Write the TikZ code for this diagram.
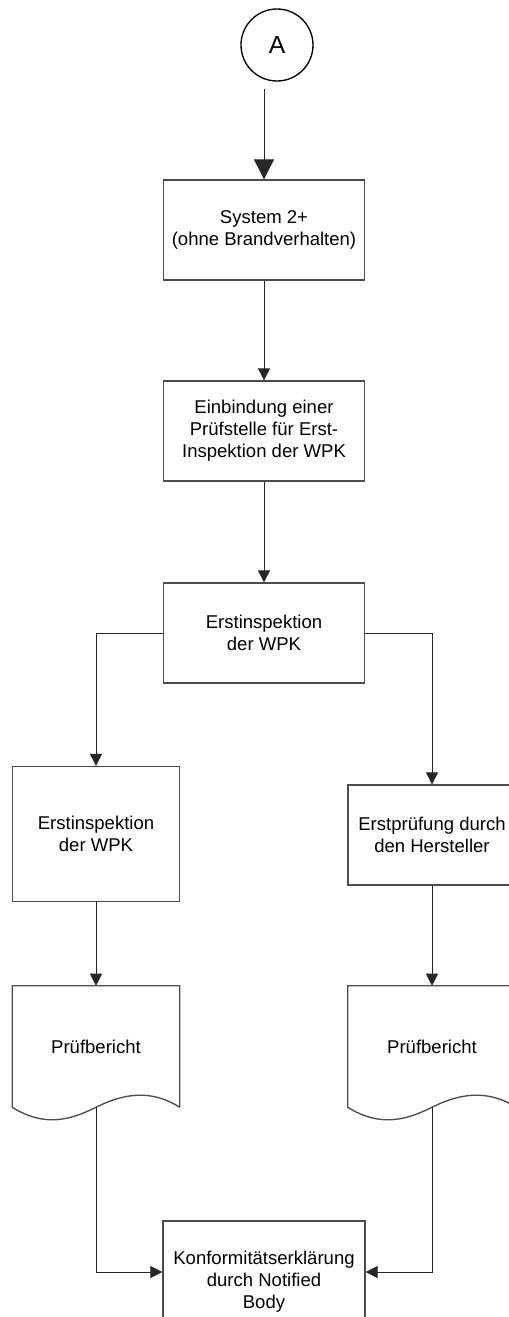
\documentclass[tikz,border=0pt]{standalone}
\usepackage{fontspec}
\setmainfont{Liberation Sans}
\usetikzlibrary{arrows.meta,calc}

\tikzset{
  kasten/.style={draw=black!70, line width=1pt, fill=white, align=center, inner sep=0.75pt,
    font=\fontsize{13.9}{16.6}\selectfont},
  dokument/.style={align=center, inner sep=0.75pt, font=\fontsize{13.9}{16.6}\selectfont},
  pfeil/.style={draw=black!85, line width=0.75pt, -{Triangle[length=9pt,width=9pt]}},
}

\begin{document}
\begin{tikzpicture}[x=0.75pt,y=0.75pt,yscale=-1,xscale=1]
\useasboundingbox (0,0) rectangle (508,1317);

%Shape: Circle
\node [draw=black, line width=1pt, circle, minimum size=54pt, inner sep=0pt,
  font=\fontsize{18.5}{22}\selectfont] (kreisA) at (277,45) {A};

%Shape: Rectangles
\node [kasten, minimum width=150.75pt, minimum height=75pt] (sys) at (264,230) {System 2+\\(ohne Brandverhalten)};
\node [kasten, minimum width=150.75pt, minimum height=75pt] (einb) at (264,431) {Einbindung einer\\Prüfstelle für Erst-\\Inspektion der WPK};
\node [kasten, minimum width=150.75pt, minimum height=75pt] (erst) at (264,633) {Erstinspektion\\der WPK};
\node [kasten, minimum width=125.25pt, minimum height=101.25pt] (erstL) at (96,834) {Erstinspektion\\der WPK};
\node [kasten, minimum width=126pt, minimum height=75pt] (erstR) at (432,835) {Erstprüfung durch\\den Hersteller};
\node [kasten, minimum width=151.5pt, minimum height=91.5pt] (konf) at (264,1282) {Konformitätserklärung\\durch Notified\\Body};

%Shape: Documents
\node [dokument, minimum width=125.25pt, minimum height=90.75pt] (berL) at (96,1046.5) {Prüfbericht};
\node [dokument, minimum width=126pt, minimum height=90.75pt] (berR) at (432,1046.5) {Prüfbericht};
\foreach \d in {berL,berR}
  \draw [draw=black!70, line width=1pt] (\d.south east) -- (\d.north east) -- (\d.north west) -- (\d.south west)
    .. controls +(32,20) and +(-26,13) .. (\d.south)
    .. controls +(26,-13) and +(-30,-19) .. (\d.south east);

%Straight Lines
\draw [pfeil, -{Triangle[length=15pt,width=15pt]}, shorten <=5.25pt] (sys.north |- kreisA.south) -- (sys.north);
\draw [pfeil] (sys.south) -- (einb.north);
\draw [pfeil] (einb.south) -- (erst.north);
\draw [pfeil] (erst.west) -| (erstL.north);
\draw [pfeil] (erst.east) -| (erstR.north);
\draw [pfeil] (erstL.south) -- (berL.north);
\draw [pfeil] (erstR.south) -- (berR.north);
\draw [pfeil] (berL.south) |- ([yshift=-7.5pt]konf.west);
\draw [pfeil] (berR.south) |- ([yshift=-7.5pt]konf.east);

\end{tikzpicture}
\end{document}
